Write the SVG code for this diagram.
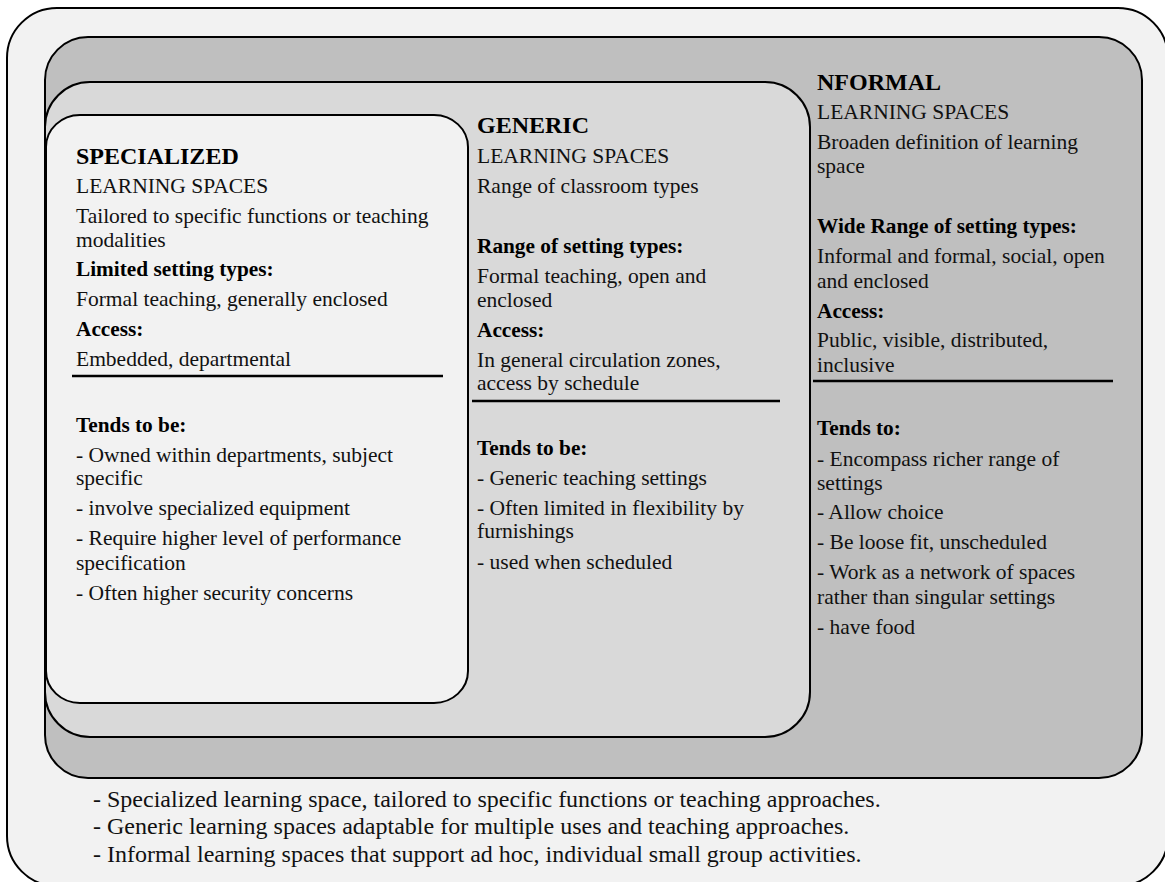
<svg xmlns="http://www.w3.org/2000/svg" width="1165" height="882" viewBox="0 0 1165 882">
<style>
.box{stroke:#000;stroke-width:2}
.t{font-size:21.5px;fill:#111}
.b{font-weight:bold;fill:#000;font-size:21.3px}
.h{font-size:24px}
.n{font-size:24px}
.rule{stroke:#000;stroke-width:2.5}
</style>
<rect width="1165" height="882" fill="#ffffff"/>
<g id="outer">
<rect class="box" x="7" y="8" width="1161" height="878" rx="50" ry="50" fill="#f2f2f2"/>
</g>
<g font-family="Liberation Serif, DejaVu Serif, serif">
<g id="informal">
<rect class="box" x="45" y="37" width="1097" height="741" rx="43" ry="43" fill="#bfbfbf"/>
<text class="t b h" x="817" y="90">NFORMAL</text>
<text class="t" x="817" y="119">LEARNING SPACES</text>
<text class="t" x="817" y="149">Broaden definition of learning</text>
<text class="t" x="817" y="173">space</text>
<text class="t b" x="817" y="233">Wide Range of setting types:</text>
<text class="t" x="817" y="263">Informal and formal, social, open</text>
<text class="t" x="817" y="288">and enclosed</text>
<text class="t b" x="817" y="318">Access:</text>
<text class="t" x="817" y="347">Public, visible, distributed,</text>
<text class="t" x="817" y="372">inclusive</text>
<line class="rule" x1="813" y1="381" x2="1113" y2="381"/>
<text class="t b" x="817" y="435">Tends to:</text>
<text class="t" x="817" y="466">- Encompass richer range of</text>
<text class="t" x="817" y="490">settings</text>
<text class="t" x="817" y="519">- Allow choice</text>
<text class="t" x="817" y="549">- Be loose fit, unscheduled</text>
<text class="t" x="817" y="579">- Work as a network of spaces</text>
<text class="t" x="817" y="604">rather than singular settings</text>
<text class="t" x="817" y="634">- have food</text>
</g>
<g id="generic">
<rect class="box" x="45" y="82" width="765" height="655" rx="45" ry="45" fill="#d9d9d9"/>
<text class="t b h" x="477" y="133">GENERIC</text>
<text class="t" x="477" y="163">LEARNING SPACES</text>
<text class="t" x="477" y="193">Range of classroom types</text>
<text class="t b" x="477" y="253">Range of setting types:</text>
<text class="t" x="477" y="283">Formal teaching, open and</text>
<text class="t" x="477" y="307">enclosed</text>
<text class="t b" x="477" y="337">Access:</text>
<text class="t" x="477" y="367">In general circulation zones,</text>
<text class="t" x="477" y="390">access by schedule</text>
<line class="rule" x1="472" y1="401" x2="780" y2="401"/>
<text class="t b" x="477" y="455">Tends to be:</text>
<text class="t" x="477" y="485">- Generic teaching settings</text>
<text class="t" x="477" y="515">- Often limited in flexibility by</text>
<text class="t" x="477" y="538">furnishings</text>
<text class="t" x="477" y="569">- used when scheduled</text>
</g>
<g id="specialized">
<rect class="box" x="46" y="115" width="422" height="588" rx="34" ry="32" fill="#f2f2f2"/>
<text class="t b h" x="76" y="164">SPECIALIZED</text>
<text class="t" x="76" y="193">LEARNING SPACES</text>
<text class="t" x="76" y="223">Tailored to specific functions or teaching</text>
<text class="t" x="76" y="247">modalities</text>
<text class="t b" x="76" y="276">Limited setting types:</text>
<text class="t" x="76" y="306">Formal teaching, generally enclosed</text>
<text class="t b" x="76" y="336">Access:</text>
<text class="t" x="76" y="366">Embedded, departmental</text>
<line class="rule" x1="72" y1="376" x2="443" y2="376"/>
<text class="t b" x="76" y="432">Tends to be:</text>
<text class="t" x="76" y="462">- Owned within departments, subject</text>
<text class="t" x="76" y="485">specific</text>
<text class="t" x="76" y="515">- involve specialized equipment</text>
<text class="t" x="76" y="545">- Require higher level of performance</text>
<text class="t" x="76" y="570">specification</text>
<text class="t" x="76" y="600">- Often higher security concerns</text>
</g>
<g id="notes">
<text class="t n" x="93" y="807">- Specialized learning space, tailored to specific functions or teaching approaches.</text>
<text class="t n" x="93" y="834">- Generic learning spaces adaptable for multiple uses and teaching approaches.</text>
<text class="t n" x="93" y="862">- Informal learning spaces that support ad hoc, individual small group activities.</text>
</g>
</g>
<g id="connectors"></g>
</svg>
